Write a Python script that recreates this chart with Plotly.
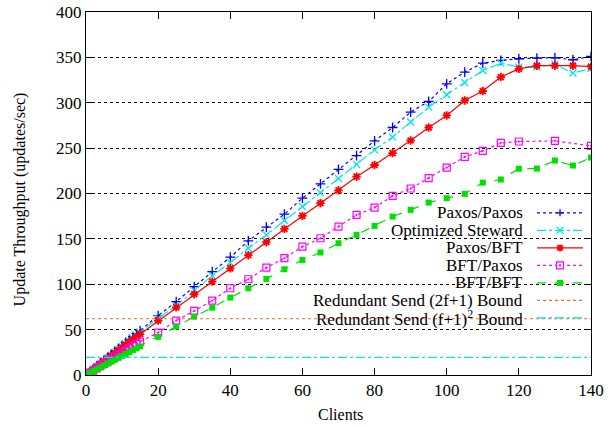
import plotly.graph_objects as go

# ---------------- data ----------------
clients = list(range(1, 16)) + list(range(20, 141, 5))
clients_bft_paxos = list(range(1, 16)) + list(range(20, 121, 5)) + [130, 140]

paxos_paxos = [3.4, 6.6, 9.9, 13.2, 16.5, 19.6, 22.9, 26.2, 29.4, 32.7, 35.9, 39.2, 42.3, 45.7, 48.9,
               65.4, 80.8, 97.4, 113.9, 129.8, 147.8, 162.9, 177.2, 194.8, 210.6, 226.5, 241.8, 258.0,
               272.7, 289.7, 301.4, 320.9, 333.8, 343.7, 346.6, 348.5, 349.2, 349.6, 347.4, 351.0]
optimized_steward = [3.2, 6.3, 9.4, 12.5, 15.6, 18.7, 21.8, 24.9, 28.1, 31.2, 34.3, 37.4, 40.5, 43.7, 46.8,
                     62.5, 76.4, 93.0, 109.5, 123.8, 139.7, 154.4, 170.2, 185.6, 201.0, 216.5, 232.0, 248.1,
                     262.1, 278.7, 295.2, 308.8, 322.3, 335.6, 343.7, 339.3, 339.3, 342.6, 332.7, 337.8]
paxos_bft = [3.1, 6.0, 9.1, 12.0, 15.1, 18.0, 21.1, 24.0, 27.1, 30.0, 33.1, 36.0, 39.1, 42.0, 45.1,
             59.9, 74.6, 89.0, 102.9, 117.6, 132.0, 146.3, 161.0, 175.3, 189.3, 203.5, 218.5, 231.4,
             244.5, 258.4, 272.7, 286.0, 302.5, 312.9, 328.3, 337.4, 340.8, 340.8, 340.8, 339.7]
bft_paxos = [2.5, 4.9, 7.4, 9.8, 12.3, 14.7, 17.1, 19.6, 22.0, 24.5, 26.9, 29.4, 31.8, 34.3, 36.7,
             46.7, 59.9, 70.6, 82.0, 95.6, 105.5, 118.3, 128.7, 141.5, 150.7, 163.6, 176.4, 184.5,
             197.4, 205.5, 217.0, 228.6, 240.4, 247.0, 255.7, 257.3, 258.0, 252.5]
bft_bft = [2.1, 4.2, 6.3, 8.4, 10.5, 12.6, 14.7, 16.8, 18.9, 21.0, 23.1, 25.2, 27.3, 29.4, 31.5,
           42.0, 53.3, 64.3, 74.2, 85.3, 95.6, 105.9, 116.5, 126.8, 135.0, 145.2, 154.4, 164.3,
           174.6, 182.0, 190.0, 194.8, 199.6, 212.0, 215.4, 227.3, 227.5, 236.3, 230.8, 239.6]

bound_2f1 = 62
bound_f1sq = 19.5
x_range = [0, 140]
y_range = [0, 400]
x_ticks = [0, 20, 40, 60, 80, 100, 120, 140]
y_ticks = [0, 50, 100, 150, 200, 250, 300, 350, 400]

series_names = ["Paxos/Paxos", "Optimized Steward", "Paxos/BFT", "BFT/Paxos", "BFT/BFT",
                "Redundant Send (2f+1) Bound", "Redundant Send (f+1)<sup>2</sup> Bound"]
x_title = "Clients"
y_title = "Update Throughput (updates/sec)"

# ---------------- styles ----------------
FONT = "Liberation Serif"
BLUE, CYAN, RED, MAGENTA, GREEN, ORANGE = "#0000ff", "#00e5ee", "#ff0000", "#ff00ff", "#00e000", "#f0683a"

# figure geometry (page body margin removed by post_script)
W, H = 608, 428
ML, MR, MT, MB = 85.5, 17, 12.3, 53
PW, PH = W - ML - MR, H - MT - MB
OFF = 0


def fx(px):  # window pixel x -> paper x
    return (px - OFF - ML) / PW


def fy(py):  # window pixel y -> paper y
    return 1 - (py - OFF - MT) / PH


fig = go.Figure()


def series(x, y, name, color, dash, symbol, size, lw=1.2, mlw=1.3):
    fig.add_trace(go.Scatter(
        x=x, y=y, name=name, mode="lines+markers", showlegend=False,
        line=dict(color=color, width=lw, dash=dash),
        marker=dict(symbol=symbol, size=size, color=color,
                    line=dict(color=color, width=mlw)),
    ))


series(clients, paxos_paxos, series_names[0], BLUE, "dot", "cross-thin-open", 7)
series(clients, optimized_steward, series_names[1], CYAN, "dashdot", "x-thin-open", 7)
series(clients, paxos_bft, series_names[2], RED, "solid", "asterisk-open", 7, mlw=1.8)
series(clients_bft_paxos, bft_paxos, series_names[3], MAGENTA, "dot", "square-open-dot", 7, mlw=1.2)
series(clients, bft_bft, series_names[4], GREEN, "dash", "square", 6, mlw=0)

fig.add_trace(go.Scatter(
    x=x_range, y=[bound_2f1] * len(x_range), name=series_names[5], showlegend=False,
    mode="lines", line=dict(color=ORANGE, width=1.2, dash="3px,3px")))
fig.add_trace(go.Scatter(
    x=x_range, y=[bound_f1sq] * len(x_range), name=series_names[6], showlegend=False,
    mode="lines", line=dict(color=CYAN, width=1.2, dash="dashdot")))

# white key area that hides grid lines (drawn between grid and traces)
fig.add_shape(type="rect", xref="paper", yref="paper", x0=fx(235), x1=fx(590), y0=fy(327), y1=fy(204),
              fillcolor="white", line=dict(width=0), layer="between")

# ---------------- key (gnuplot style: text right-aligned, sample on the right) ----------------
key_rows = [213, 230.5, 248, 265.5, 283, 300.5, 318]
key_text_right = 525
key_line = (537, 583)
key_mark = 560
key_styles = [
    (BLUE, "dot", "plus"),
    (CYAN, "dashdot", "x"),
    (RED, "solid", "star"),
    (MAGENTA, "dot", "sqdot"),
    (GREEN, "dash", "sqfill"),
    (ORANGE, "3px,3px", None),
    (CYAN, "dashdot", None),
]


def seg(x0, y0, x1, y1, color, width=1.2, dash="solid"):
    fig.add_shape(type="line", xref="paper", yref="paper",
                  x0=fx(x0), y0=fy(y0), x1=fx(x1), y1=fy(y1),
                  line=dict(color=color, width=width, dash=dash), layer="above")


for name, ry, (color, dash, mark) in zip(series_names, key_rows, key_styles):
    fig.add_annotation(text=name, xref="paper", yref="paper", x=fx(key_text_right), y=fy(ry),
                       xanchor="right", yanchor="middle", showarrow=False,
                       font=dict(family=FONT, size=17, color="black"))
    seg(key_line[0], ry, key_line[1], ry, color, 1.2, dash)
    c, r = key_mark, 3.5
    if mark == "plus":
        seg(c - r, ry, c + r, ry, color, 1.3)
        seg(c, ry - r, c, ry + r, color, 1.3)
    elif mark == "x":
        seg(c - r, ry - r, c + r, ry + r, color, 1.3)
        seg(c - r, ry + r, c + r, ry - r, color, 1.3)
    elif mark == "star":
        seg(c - r, ry, c + r, ry, color, 1.8)
        seg(c, ry - r, c, ry + r, color, 1.8)
        seg(c - r + 0.8, ry - r + 0.8, c + r - 0.8, ry + r - 0.8, color, 1.8)
        seg(c - r + 0.8, ry + r - 0.8, c + r - 0.8, ry - r + 0.8, color, 1.8)
    elif mark == "sqdot":
        fig.add_shape(type="rect", xref="paper", yref="paper",
                      x0=fx(c - r), x1=fx(c + r), y0=fy(ry + r), y1=fy(ry - r),
                      line=dict(color=color, width=1.2), fillcolor="white", layer="above")
        fig.add_shape(type="rect", xref="paper", yref="paper",
                      x0=fx(c - 0.8), x1=fx(c + 0.8), y0=fy(ry + 0.8), y1=fy(ry - 0.8),
                      line=dict(color=color, width=0.5), fillcolor=color, layer="above")
    elif mark == "sqfill":
        fig.add_shape(type="rect", xref="paper", yref="paper",
                      x0=fx(c - 3), x1=fx(c + 3), y0=fy(ry + 3), y1=fy(ry - 3),
                      line=dict(width=0), fillcolor=color, layer="above")

# ---------------- axes ----------------
axis_common = dict(
    showline=True, linecolor="black", linewidth=1, mirror="ticks",
    ticks="inside", ticklen=7, tickcolor="black", tickwidth=1,
    tickfont=dict(family=FONT, size=17, color="black"),
    zeroline=False, automargin=False, ticklabeloverflow="allow",
)

fig.update_xaxes(range=x_range, tickvals=x_ticks, showgrid=False, **axis_common)
fig.update_yaxes(range=y_range, tickvals=y_ticks, showgrid=True, gridcolor="black",
                 gridwidth=1, griddash="dot", **axis_common)

fig.add_annotation(text=x_title, xref="paper", yref="paper", x=fx(340), y=fy(414),
                   xanchor="center", yanchor="middle", showarrow=False,
                   font=dict(family=FONT, size=16, color="black"))
fig.add_annotation(text=y_title, xref="paper", yref="paper", x=fx(19), y=fy(200),
                   xanchor="center", yanchor="middle", showarrow=False, textangle=-90,
                   font=dict(family=FONT, size=16, color="black"))

fig.update_layout(
    width=W, height=H, autosize=False,
    margin=dict(l=ML, r=MR, t=MT, b=MB, pad=0),
    paper_bgcolor="white", plot_bgcolor="white",
    font=dict(family=FONT, size=16, color="black"),
    showlegend=False,
)

fig.write_html("out.html", config=dict(displayModeBar=False),
               post_script="document.body.style.margin='0';document.body.style.overflow='hidden';")
